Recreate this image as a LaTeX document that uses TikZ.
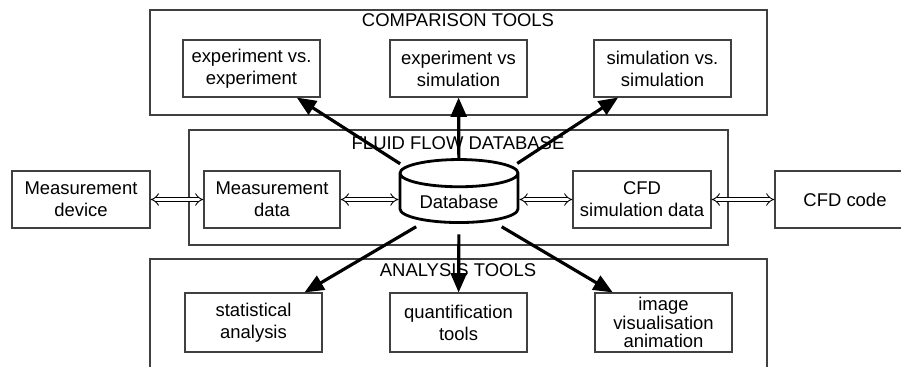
\documentclass[tikz,border=0pt]{standalone}
\usepackage{fontspec}
\setmainfont{Liberation Sans}
\usetikzlibrary{arrows.meta,shapes.geometric}

\begin{document}
\begin{tikzpicture}[
    frame/.style={draw=black!75, line width=0.6pt},
    tool/.style={draw=black!75, line width=0.6pt, minimum width=2.74cm,
      minimum height=1.14cm, align=center, inner sep=1pt},
    title/.style={inner sep=0pt},
    db/.style={cylinder, shape border rotate=90, draw, line width=1.6pt,
      aspect=0.3, minimum width=2.36cm, minimum height=1.26cm},
    flow/.style={line width=1.8pt, -{Triangle[length=11pt,width=9pt]}},
    link/.style={double, double distance=2pt, line width=0.5pt,
      {Implies}-{Implies}},
    font=\fontsize{10.5}{12.5}\selectfont]
    \useasboundingbox (0,0) rectangle (18.02,-7.34);
    % Outer frames
    \node[frame, minimum width=12.34cm, minimum height=2.1cm]  (comp)  at (9.17,-1.25) {};
    \node[frame, minimum width=10.78cm, minimum height=2.3cm]  (fluid) at (9.17,-3.75) {};
    \node[frame, minimum width=12.34cm, minimum height=2.42cm] (anal)  at (9.17,-6.39) {};
    \node[title] (comptitle)  at (9.16,-0.40) {COMPARISON TOOLS};
    \node[title] (fluidtitle) at (9.16,-2.86) {FLUID FLOW DATABASE};
    \node[title] (analtitle)  at (9.16,-5.40) {ANALYSIS TOOLS};
    % Comparison tools
    \node[tool] (exvex)  at (5.03,-1.37)  {experiment vs.\\experiment};
    \node[tool] (exvsim) at (9.17,-1.37)  {experiment vs\\simulation};
    \node[tool] (simvsim) at (13.25,-1.37) {simulation vs.\\simulation};
    % Data row
    \node[tool, minimum width=2.76cm] (measdev)  at (1.62,-3.99) {Measurement\\device};
    \node[tool, minimum width=2.72cm] (measdata) at (5.44,-3.99) {Measurement\\data};
    \node[db] (db) at (9.18,-4.03) {Database};
    \node[tool, minimum width=2.76cm] (cfdsim)  at (12.84,-3.99) {CFD\\simulation data};
    \node[tool, minimum width=2.80cm] (cfdcode) at (16.90,-3.99) {CFD code};
    % Analysis tools
    \node[tool, minimum height=1.18cm] (stat)  at (5.07,-6.45)  {statistical\\analysis};
    \node[tool, minimum height=1.18cm] (quant) at (9.17,-6.45)  {quantification\\tools};
    \node[tool, minimum height=1.18cm, font=\fontsize{10.5}{10.5}\selectfont]
      (image) at (13.27,-6.45) {image\\visualisation\\animation};
    % Data exchange
    \draw[link] (measdev) -- (measdata);
    \draw[link] (measdata.east) -- (measdata.east -| db.west);
    \draw[link] (cfdsim.west -| db.east) -- (cfdsim.west);
    \draw[link] (cfdsim) -- (cfdcode);
    % Database to tools
    \draw[flow, shorten <=3pt] (db) -- (exvex);
    \draw[flow] (db) -- (exvsim);
    \draw[flow, shorten <=3pt] (db) -- (simvsim);
    \draw[flow, shorten <=6pt] (db) -- (stat);
    \draw[flow, shorten <=6pt] (db) -- (quant);
    \draw[flow, shorten <=6pt] (db) -- (image);
\end{tikzpicture}
\end{document}
